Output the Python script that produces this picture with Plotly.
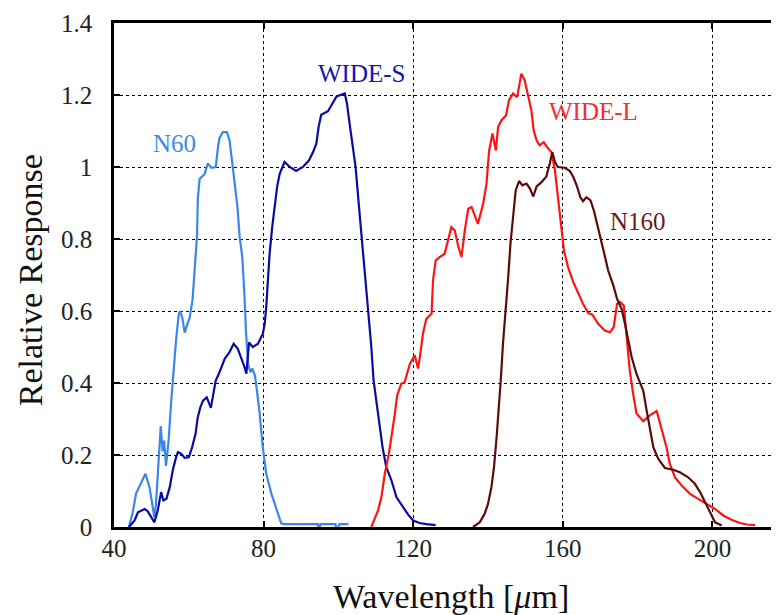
import plotly.graph_objects as go

# wavelength [um] / relative response
n60_wl = [44.0, 45.0, 45.9, 47.3, 48.4, 49.5, 50.8, 51.2, 51.9, 52.5, 53.0, 53.4, 53.9, 54.6,
          55.3, 55.7, 56.6, 57.3, 57.7, 58.3, 58.9, 59.5, 60.2, 61.0, 61.5, 62.2, 62.4, 62.9,
          64.2, 65.1, 66.0, 67.2, 67.8, 68.2, 69.1, 70.2, 70.9, 71.6, 72.2, 73.0, 73.6, 74.3,
          74.9, 75.3, 75.9, 76.5, 77.0, 77.7, 78.2, 78.9, 79.8, 80.7, 82.1, 83.8, 84.7, 85.5,
          94.5, 94.8, 95.2, 99.2, 99.6, 100.3, 102.7]
n60_resp = [0.0, 0.04, 0.093, 0.125, 0.148, 0.11, 0.027, 0.06, 0.2, 0.28, 0.21, 0.24, 0.17, 0.24,
            0.35, 0.41, 0.52, 0.59, 0.60, 0.58, 0.54, 0.56, 0.58, 0.63, 0.71, 0.81, 0.91, 0.967,
            0.98, 1.01, 0.998, 1.0, 1.055, 1.08, 1.097, 1.097, 1.074, 1.009, 0.963, 0.89, 0.805, 0.75,
            0.64, 0.54, 0.45, 0.43, 0.44, 0.42, 0.38, 0.32, 0.22, 0.148, 0.092, 0.037, 0.01, 0.008,
            0.008, -0.01, 0.008, 0.008, -0.01, 0.008, 0.008]

wides_wl = [44.0, 45.5, 46.4, 48.2, 49.0, 49.9, 50.8, 51.7, 52.6, 53.2, 54.0, 54.9, 55.7, 56.6,
            57.1, 58.0, 58.9, 60.0, 60.9, 61.8, 62.4, 63.1, 63.8, 64.8, 65.6, 65.9, 66.4, 67.2,
            68.2, 69.6, 70.9, 72.0, 73.1, 74.0, 74.9, 75.4, 76.1, 77.1, 78.5, 79.8, 80.3, 80.7,
            81.2, 81.6, 82.3, 82.9, 83.6, 84.3, 85.6, 87.0, 88.7, 90.5, 92.1, 93.2, 94.1, 94.7,
            95.4, 97.2, 98.5, 99.5, 101.7, 102.3, 103.0, 103.9, 104.6, 105.2, 106.1, 107.0, 107.9,
            108.8, 109.4, 110.6, 111.8, 112.8, 114.2, 115.5, 117.3, 118.6, 120.0, 121.7, 123.5, 126.0]
wides_resp = [0.0, 0.018, 0.041, 0.05, 0.044, 0.027, 0.013, 0.046, 0.097, 0.074, 0.078, 0.11, 0.157, 0.194,
              0.208, 0.203, 0.192, 0.194, 0.222, 0.259, 0.305, 0.333, 0.351, 0.36, 0.342, 0.331, 0.36, 0.407,
              0.43, 0.467, 0.486, 0.509, 0.495, 0.472, 0.444, 0.426, 0.513, 0.50, 0.509, 0.537, 0.565, 0.61,
              0.685, 0.759, 0.833, 0.889, 0.944, 0.981, 1.014, 1.0, 0.989, 1.0, 1.018, 1.041, 1.065, 1.111,
              1.145, 1.155, 1.178, 1.196, 1.204, 1.176, 1.12, 1.055, 1.0, 0.926, 0.824, 0.722, 0.602,
              0.50, 0.407, 0.315, 0.222, 0.166, 0.129, 0.083, 0.055, 0.035, 0.018, 0.011, 0.008, 0.005]

widel_wl = [108.8, 110.6, 111.5, 112.4, 113.5, 114.4, 115.1, 115.7, 116.8, 117.7, 119.1, 120.4, 121.3,
            121.9, 122.6, 123.5, 124.9, 125.3, 126.0, 127.1, 128.4, 130.2, 131.1, 132.0, 132.9, 133.8,
            134.7, 135.6, 136.7, 137.3, 138.7, 139.6, 140.3, 141.2, 142.1, 142.7, 143.6, 144.8, 145.6,
            146.7, 147.8, 148.9, 149.8, 150.7, 151.6, 152.2, 153.0, 153.8, 154.9, 156.1, 157.0, 157.9,
            158.7, 159.7, 160.3, 161.4, 162.8, 164.1, 165.4, 166.8, 167.9, 169.4, 171.2, 172.6, 173.6,
            174.5, 175.3, 176.3, 177.2, 177.9, 178.8, 179.7, 181.5, 183.3, 185.1, 186.4, 187.7, 188.6,
            190.0, 191.8, 194.0, 196.2, 198.4, 200.7, 202.9, 205.1, 207.4, 209.2, 211.4]
widel_resp = [0.0, 0.046, 0.083, 0.148, 0.203, 0.259, 0.315, 0.365, 0.398, 0.402, 0.453, 0.477, 0.44,
              0.481, 0.537, 0.578, 0.592, 0.685, 0.74, 0.75, 0.759, 0.833, 0.824, 0.782, 0.75, 0.824,
              0.884, 0.889, 0.861, 0.842, 0.898, 0.954, 1.046, 1.093, 1.046, 1.111, 1.13, 1.143, 1.185,
              1.204, 1.194, 1.259, 1.241, 1.199, 1.157, 1.102, 1.074, 1.06, 1.069, 1.051, 1.041, 0.99,
              0.907, 0.824, 0.768, 0.722, 0.68, 0.648, 0.62, 0.594, 0.59, 0.565, 0.546, 0.541, 0.555,
              0.62, 0.625, 0.615, 0.509, 0.435, 0.37, 0.315, 0.294, 0.31, 0.322, 0.273, 0.222, 0.176,
              0.138, 0.115, 0.092, 0.078, 0.064, 0.05, 0.032, 0.02, 0.011, 0.007, 0.005]

n160_wl = [136.0, 137.8, 139.1, 140.0, 140.9, 141.6, 142.3, 142.9, 143.4, 144.0, 144.8, 145.4, 146.0,
           146.7, 147.4, 148.3, 149.2, 150.3, 151.2, 152.1, 153.0, 154.3, 155.6, 156.5, 157.2, 157.9,
           158.7, 160.5, 161.9, 162.8, 163.7, 164.7, 165.4, 166.3, 167.4, 168.3, 169.2, 170.2, 171.2,
           172.1, 173.5, 174.5, 175.7, 176.6, 177.5, 178.4, 179.7, 181.5, 182.4, 183.3, 184.2, 185.5,
           187.3, 189.5, 191.3, 193.5, 195.3, 196.7, 198.0, 199.4, 200.7, 202.5]
n160_resp = [0.0, 0.013, 0.037, 0.064, 0.11, 0.166, 0.25, 0.324, 0.407, 0.509, 0.602, 0.694, 0.787,
             0.87, 0.935, 0.961, 0.949, 0.954, 0.94, 0.918, 0.946, 0.958, 0.974, 1.009, 1.041, 1.014,
             1.0, 0.998, 0.989, 0.972, 0.949, 0.916, 0.905, 0.916, 0.907, 0.879, 0.842, 0.796, 0.754,
             0.713, 0.671, 0.634, 0.606, 0.565, 0.518, 0.472, 0.425, 0.379, 0.324, 0.277, 0.222, 0.19,
             0.164, 0.159, 0.152, 0.138, 0.12, 0.097, 0.069, 0.037, 0.013, 0.004]

bands = ["N60", "WIDE-S", "WIDE-L", "N160"]
line_colors = ["#3a86ea", "#0a0aa5", "#ff1414", "#5e0a0a"]
text_colors = ["#3f8ae6", "#1414b4", "#ff2a2a", "#6a1a1a"]
label_pos = [(56.2, 1.066), (106.1, 1.261), (168.1, 1.155), (180.0, 0.849)]

serif = "Liberation Serif, Times New Roman, serif"

fig = go.Figure()
series = [(n60_wl, n60_resp), (wides_wl, wides_resp), (widel_wl, widel_resp), (n160_wl, n160_resp)]
for (wl, resp), name, col in zip(series, bands, line_colors):
    fig.add_trace(go.Scatter(x=wl, y=resp, mode="lines", name=name,
                             line=dict(color=col, width=2.2), showlegend=False))

for name, col, (lx, ly) in zip(bands, text_colors, label_pos):
    fig.add_annotation(x=lx, y=ly, text=name, showarrow=False,
                       font=dict(family=serif, size=25, color=col))

# axis titles placed as annotations (paper coords) to match the reference spots
fig.add_annotation(xref="paper", yref="paper", x=0.507, y=-0.137,
                   text="Wavelength [<i>\u03bc</i>m]", showarrow=False,
                   xanchor="center", yanchor="middle",
                   font=dict(family=serif, size=34, color="#111"))
fig.add_annotation(xref="paper", yref="paper", x=-0.126, y=0.49,
                   text="Relative Response", showarrow=False, textangle=-90,
                   xanchor="center", yanchor="middle",
                   font=dict(family=serif, size=34, color="#111"))

fig.update_xaxes(
    range=[40, 217.8], tickvals=[40, 80, 120, 160, 200],
    showline=True, linecolor="black", linewidth=2.5, mirror="allticks",
    ticks="inside", ticklen=6, tickwidth=1.5, tickcolor="black",
    showgrid=True, gridcolor="black", gridwidth=1, griddash="dot",
    zeroline=False, ticklabelstandoff=-3,
    tickfont=dict(family=serif, size=25, color="#222"),
)
fig.update_yaxes(
    range=[0, 1.4], tickvals=[0, 0.2, 0.4, 0.6, 0.8, 1.0, 1.2, 1.4],
    ticktext=["0", "0.2", "0.4", "0.6", "0.8", "1", "1.2", "1.4"],
    showline=True, linecolor="black", linewidth=2.5, mirror=False,
    ticks="inside", ticklen=6, tickwidth=1.5, tickcolor="black",
    showgrid=True, gridcolor="black", gridwidth=1, griddash="dot",
    zeroline=False, ticklabelstandoff=14,
    tickfont=dict(family=serif, size=25, color="#222"),
)

# the page body adds an 8px offset, so the figure is sized 8px smaller
fig.update_layout(
    width=771, height=607,
    margin=dict(l=106, r=0, t=15, b=88, autoexpand=False),
    plot_bgcolor="white", paper_bgcolor="white",
)

fig.write_html("out.html")
